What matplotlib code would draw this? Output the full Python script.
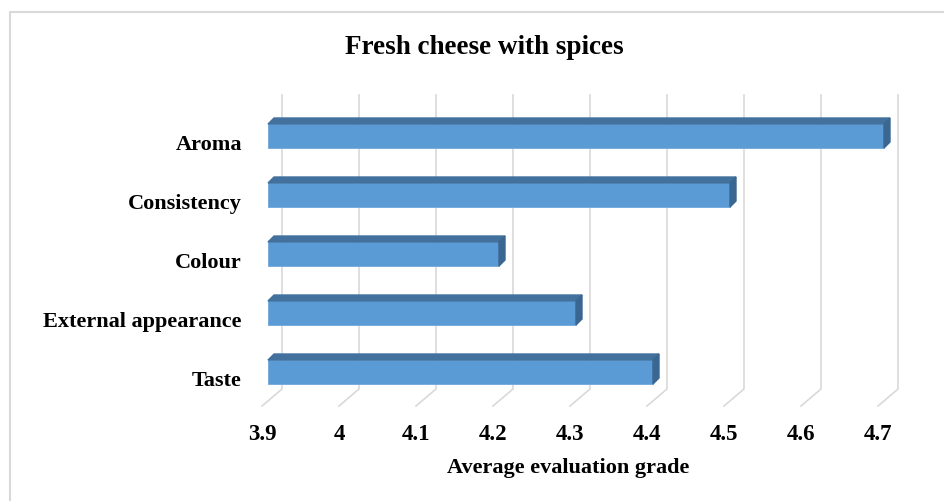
import numpy as np
import matplotlib.pyplot as plt
from matplotlib.patches import Polygon, Rectangle

# data
categories = ['Taste', 'External appearance', 'Colour', 'Consistency', 'Aroma']
grades = [4.4, 4.3, 4.2, 4.5, 4.7]
ticks = [3.9, 4.0, 4.1, 4.2, 4.3, 4.4, 4.5, 4.6, 4.7]
tick_labels = ['3.9', '4', '4.1', '4.2', '4.3', '4.4', '4.5', '4.6', '4.7']

W, H = 945, 502
fig = plt.figure(figsize=(W / 100, H / 100), dpi=100)
plt.rcParams['font.family'] = ['Liberation Serif', 'DejaVu Serif']

# plot area in pixels: front plane 3.9 -> 268px, 4.7 -> 884px
x0, x1 = 3.9, 4.7
front_left, front_right = 268, 884
px_x = (front_right - front_left) / (x1 - x0)   # pixels per grade unit
px_y = 59.0                                     # pixels per category
margin = 10
left_px, right_px = front_left - margin, front_right + margin
top_px, bot_px = 96, 407
ax = fig.add_axes([left_px / W, 1 - bot_px / H, (right_px - left_px) / W, (bot_px - top_px) / H])
xlo, xhi = x0 - margin / px_x, x1 + margin / px_x
ax.set_xlim(xlo, xhi)
ax.set_ylim(-(bot_px - 373) / px_y, (373 - top_px) / px_y)
for s in ax.spines.values():
    s.set_visible(False)

# 3d-ish gridlines: back wall + floor diagonal
back_dx = 14 / px_x
floor_dx = -6 / px_x
wall_bottom = -(390 - 373) / px_y
ymin, ymax = ax.get_ylim()
for t in ticks:
    ax.plot([t + back_dx, t + back_dx, t + floor_dx], [ymax, wall_bottom, ymin],
            color='#d9d9d9', lw=1.2, clip_on=False, zorder=1)

# bars with depth
y = np.arange(len(categories))
h = 24 / px_y
ddx = 6 / px_x
ddy = 6 / px_y
front = '#5b9bd5'
top_c = '#41719c'
side_c = '#3a6791'
ax.barh(y, np.array(grades) - x0, left=x0, height=h, color=front,
        edgecolor='#6fa8dc', linewidth=0.6, zorder=3)
for yi, v in zip(y, grades):
    ax.add_patch(Polygon([(x0, yi + h / 2), (v, yi + h / 2), (v + ddx, yi + h / 2 + ddy),
                          (x0 + ddx, yi + h / 2 + ddy)], closed=True, color=top_c, zorder=3, clip_on=False))
    ax.add_patch(Polygon([(v, yi - h / 2), (v, yi + h / 2), (v + ddx, yi + h / 2 + ddy),
                          (v + ddx, yi - h / 2 + ddy)], closed=True, color=side_c, zorder=3, clip_on=False))

# category labels (right edge at ~242px)
ax.set_yticks(y - 0.1)
ax.set_yticklabels(categories, fontsize=16, fontweight='bold')
ax.tick_params(axis='y', length=0, pad=(left_px - 242) * 0.72)

# value ticks sit on the front edge of the floor
ax.set_xticks([t + floor_dx for t in ticks])
ax.set_xticklabels(tick_labels, fontsize=16.5, fontweight='bold')
ax.tick_params(axis='x', length=0, pad=12.5)
ax.set_xlim(xlo, xhi)
ax.set_xlabel('Average evaluation grade', fontsize=16, fontweight='bold')
ax.xaxis.set_label_coords((568 - left_px) / (right_px - left_px), -(458 - bot_px) / (bot_px - top_px))

fig.text(484 / W, 1 - 48 / H, 'Fresh cheese with spices', ha='center', va='center',
         fontsize=19.5, fontweight='bold')

# chart border
fig.add_artist(Rectangle((10 / W, -0.1), 1.0, 1 - 13 / H + 0.1, transform=fig.transFigure,
                         fill=False, edgecolor='#d9d9d9', lw=1.5))

fig.savefig('out.png', dpi=100)
